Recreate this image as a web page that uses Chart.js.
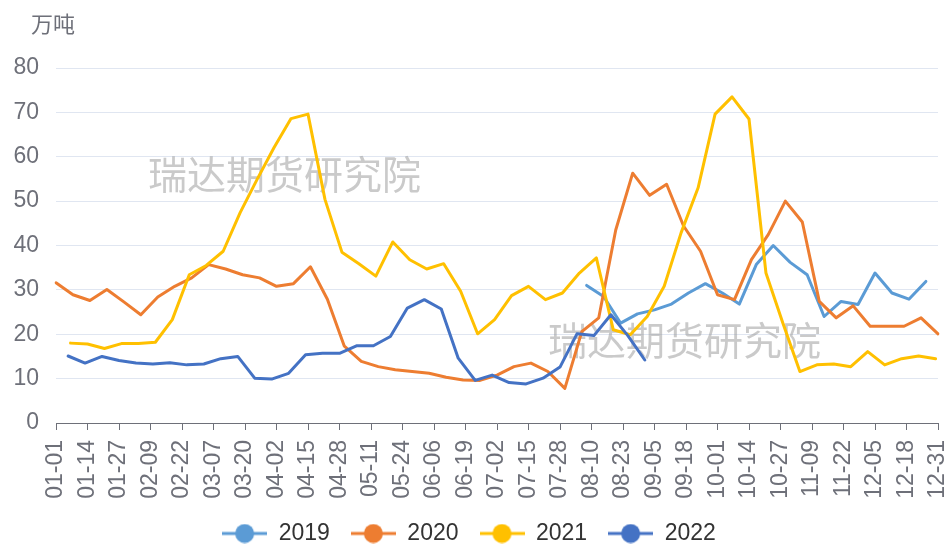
<!DOCTYPE html>
<html><head><meta charset="utf-8">
<script src="https://cdn.jsdelivr.net/npm/chart.js@4.4.1/dist/chart.umd.min.js"></script>
<style>html,body{margin:0;padding:0;background:#fff;}</style>
</head><body>
<canvas id="c" width="949" height="545"></canvas>
<script>
const seriesNames = ['2019', '2020', '2021', '2022'];
const seriesColors = ['#5B9BD5', '#ED7D31', '#FFC000', '#4472C4'];

const dates2019 = ['08-08','08-15','08-22','08-29','09-05','09-12','09-19','09-26','10-03','10-10','10-17','10-24','10-31','11-07','11-14','11-21','11-28','12-05','12-12','12-19','12-26'];
const values2019 = [31.0,28.5,22.5,24.6,25.5,26.8,29.3,31.4,29.3,26.8,35.7,40.0,36.2,33.4,24.0,27.4,26.7,33.8,29.3,27.9,31.9];

const dates2020 = ['01-01','01-08','01-15','01-22','01-29','02-05','02-12','02-19','02-26','03-05','03-12','03-19','03-26','04-02','04-09','04-16','04-23','04-30','05-07','05-14','05-21','05-28','06-04','06-11','06-18','06-25','07-02','07-09','07-16','07-23','07-30','08-06','08-13','08-20','08-27','09-03','09-10','09-17','09-24','10-01','10-08','10-15','10-22','10-29','11-05','11-12','11-19','11-26','12-03','12-10','12-17','12-24','12-31'];
const values2020 = [31.6,28.9,27.6,30.1,27.3,24.4,28.4,30.8,32.7,35.7,34.7,33.4,32.7,30.8,31.4,35.2,27.9,17.3,13.9,12.7,12.0,11.6,11.2,10.3,9.7,9.6,10.8,12.7,13.5,11.6,7.8,20.6,23.7,43.5,56.3,51.3,53.8,44.4,38.7,28.9,27.8,36.8,42.5,50.0,45.3,27.4,23.7,26.4,21.8,21.8,21.8,23.7,20.1];

const dates2021 = ['01-07','01-14','01-21','01-28','02-04','02-11','02-18','02-25','03-04','03-11','03-18','03-25','04-01','04-08','04-15','04-22','04-29','05-06','05-13','05-20','05-27','06-03','06-10','06-17','06-24','07-01','07-08','07-15','07-22','07-29','08-05','08-12','08-19','08-26','09-02','09-09','09-16','09-23','09-30','10-07','10-14','10-21','10-28','11-04','11-11','11-18','11-25','12-02','12-09','12-16','12-23','12-30'];
const values2021 = [18.0,17.8,16.8,17.9,17.9,18.2,23.3,33.4,35.5,38.7,47.4,54.9,62.1,68.6,69.6,50.4,38.5,35.9,33.1,40.8,36.8,34.7,35.9,29.7,20.1,23.3,28.7,30.8,27.8,29.3,33.8,37.2,21.0,19.9,24.0,30.8,42.9,53.0,69.6,73.5,68.5,33.8,22.5,11.6,13.1,13.3,12.7,16.1,13.1,14.5,15.1,14.5];

const dates2022 = ['01-06','01-13','01-20','01-27','02-03','02-10','02-17','02-24','03-03','03-10','03-17','03-24','03-31','04-07','04-14','04-21','04-28','05-05','05-12','05-19','05-26','06-02','06-09','06-16','06-23','06-30','07-07','07-14','07-21','07-28','08-04','08-11','08-18','08-25','09-01'];
const values2022 = [15.1,13.5,15.0,14.1,13.5,13.3,13.6,13.1,13.3,14.5,15.0,10.1,9.9,11.2,15.4,15.7,15.7,17.4,17.4,19.5,25.9,27.8,25.7,14.6,9.6,10.8,9.1,8.8,10.1,12.6,20.1,19.7,24.4,19.7,14.2];

const tickLabels = ['01-01','01-14','01-27','02-09','02-22','03-07','03-20','04-02','04-15','04-28','05-11','05-24','06-06','06-19','07-02','07-15','07-28','08-10','08-23','09-05','09-18','10-01','10-14','10-27','11-09','11-22','12-05','12-18','12-31'];
const yTicks = [0, 10, 20, 30, 40, 50, 60, 70, 80];
const unitLabel = '万吨';
const watermarkText = '瑞达期货研究院';

// x categories: every calendar day (non-leap year)
const monthDays = [31,28,31,30,31,30,31,31,30,31,30,31];
const categories = [];
monthDays.forEach((n, m) => {
  for (let d = 1; d <= n; d++) categories.push(String(m + 1).padStart(2, '0') + '-' + String(d).padStart(2, '0'));
});

const allDates = [dates2019, dates2020, dates2021, dates2022];
const allValues = [values2019, values2020, values2021, values2022];

function legendIcon(color) {
  const c = document.createElement('canvas');
  c.width = 45; c.height = 20;
  const g = c.getContext('2d');
  g.strokeStyle = color; g.lineWidth = 3;
  g.beginPath(); g.moveTo(0, 10); g.lineTo(45, 10); g.stroke();
  g.fillStyle = color;
  g.beginPath(); g.arc(22.5, 10, 9.5, 0, Math.PI * 2); g.fill();
  return c;
}

const FONT = '"Liberation Sans", Arial, sans-serif';
const CJK = '"Noto Sans CJK SC", sans-serif';
const AXIS = '#6E7079';

const extras = {
  id: 'extras',
  beforeDatasetsDraw(chart) {
    const ctx = chart.ctx;
    ctx.save();
    ctx.font = '39px ' + CJK;
    ctx.fillStyle = 'rgba(150,150,150,0.5)';
    ctx.textBaseline = 'middle';
    ctx.textAlign = 'left';
    ctx.fillText(watermarkText, 148, 174);
    ctx.fillText(watermarkText, 548, 340);
    ctx.restore();
  },
  afterDraw(chart) {
    const ctx = chart.ctx;
    ctx.save();
    ctx.font = '22px ' + CJK;
    ctx.fillStyle = AXIS;
    ctx.textBaseline = 'middle';
    ctx.textAlign = 'left';
    ctx.fillText(unitLabel, 31, 24);
    ctx.restore();
  }
};

new Chart(document.getElementById('c'), {
  type: 'line',
  data: {
    labels: categories,
    datasets: seriesNames.map((name, i) => ({
      label: name,
      data: allDates[i].map((d, j) => ({ x: d, y: allValues[i][j] })),
      borderColor: seriesColors[i],
      backgroundColor: seriesColors[i],
      borderWidth: 3,
      pointRadius: 0,
      pointHoverRadius: 0,
      pointStyle: legendIcon(seriesColors[i]),
      tension: 0,
      borderJoinStyle: 'round',
      borderCapStyle: 'round',
      order: 3 - i
    }))
  },
  options: {
    responsive: false,
    animation: false,
    devicePixelRatio: 1,
    layout: { padding: { top: 68, right: 11, left: 0, bottom: 0 } },
    scales: {
      x: {
        type: 'category',
        offset: false,
        border: { display: true, color: AXIS, width: 1 },
        grid: {
          drawOnChartArea: false,
          drawTicks: true,
          tickLength: 7,
          tickColor: (c) => tickLabels.includes(categories[c.index]) ? AXIS : 'rgba(0,0,0,0)',
          tickWidth: 1
        },
        ticks: {
          autoSkip: false,
          minRotation: 90,
          maxRotation: 90,
          padding: 10,
          color: AXIS,
          font: { size: 23, family: FONT },
          callback: (v, i) => tickLabels.includes(categories[i]) ? categories[i] : ''
        },
        afterFit: (s) => { s.height = 78; s.paddingLeft = 0; s.paddingRight = 0; }
      },
      y: {
        min: 0, max: 80,
        border: { display: false },
        grid: { color: '#E0E6F1', lineWidth: 1, drawTicks: false },
        ticks: { padding: 17, color: AXIS, font: { size: 23, family: FONT } },
        afterBuildTicks: (s) => { s.ticks = yTicks.map(v => ({ value: v })); },
        afterFit: (s) => { s.width = 56; }
      }
    },
    plugins: {
      legend: {
        position: 'bottom',
        maxHeight: 44,
        labels: {
          usePointStyle: true,
          pointStyleWidth: 45,
          padding: 21,
          color: '#333',
          font: { size: 23, family: FONT },
          sort: (a, b) => a.datasetIndex - b.datasetIndex
        }
      },
      tooltip: { enabled: false },
      title: { display: false }
    }
  },
  plugins: [extras]
});
</script>
</body></html>
